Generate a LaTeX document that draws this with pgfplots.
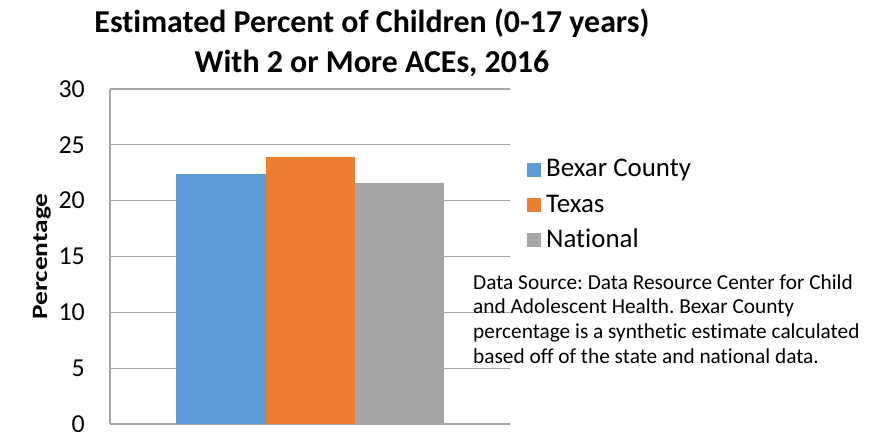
\documentclass[border=0pt]{standalone}
\usepackage{fontspec}
\setmainfont{Carlito}[Ligatures=NoCommon]
\usepackage{pgfplots}
\pgfplotsset{compat=1.18}

\definecolor{barblue}{HTML}{5B9BD5}
\definecolor{barorange}{HTML}{ED7D31}
\definecolor{bargray}{HTML}{A5A5A5}
\definecolor{gridgray}{HTML}{A6A6A6}

\begin{document}
\frenchspacing
\begin{tikzpicture}
\begin{axis}[
    scale only axis,
    width=400bp, height=335bp,
    clip=false,
    ybar=0pt, bar width=89bp,
    xmin=-1, xmax=1, ymin=0, ymax=30,
    xtick=\empty,
    ytick={0,5,...,30},
    ymajorgrids,
    grid style={gridgray, line width=1.1bp},
    axis x line=bottom, axis y line=left,
    axis line style={-, gridgray, line width=1.1bp},
    major tick length=0pt,
    /pgf/number format/assume math mode=true,
    yticklabel style={font=\fontsize{26}{30}\selectfont, inner sep=0pt, xshift=-25bp},
    every axis title/.style={at={(axis description cs:0.655,1)}, anchor=south,
        inner sep=0pt, yshift=12bp, align=center,
        font=\bfseries\fontsize{32}{40}\selectfont},
    title={Estimated Percent of Children (0-17 years)\\With 2 or More ACEs, 2016},
    every axis y label/.style={at={(axis description cs:-0.1475,0.5)}, rotate=90,
        anchor=south, inner sep=0pt, font=\bfseries\fontsize{22}{26}\selectfont},
    ylabel={\scalebox{1.25}[1]{Percentage}},
    legend cell align=left,
    legend image code/.code={\fill[#1] (0bp,-7bp) rectangle (14bp,7bp);},
    legend style={at={(axis description cs:1.0425,0.792)}, anchor=north west,
        draw=none, fill=none, inner sep=0pt, row sep=13.3bp, column sep=5bp,
        font=\fontsize{27}{32}\selectfont,
        nodes={inner sep=0pt, text height=18bp, text depth=4bp}},
]
\addplot[fill=barblue, draw=none] coordinates {(0,22.4)};
\addplot[fill=barorange, draw=none] coordinates {(0,23.9)};
\addplot[fill=bargray, draw=none] coordinates {(0,21.6)};
\legend{Bexar County,Texas,National}
\node[anchor=north west, align=left, inner sep=0pt,
      font=\fontsize{21.4}{25}\selectfont]
  at (axis description cs:0.9075,0.4477)
  {Data Source: Data Resource Center for Child\\
   and Adolescent Health. Bexar County\\
   percentage is a synthetic estimate calculated\\
   based off of the state and national data.};
\end{axis}
\pgfresetboundingbox
\path ([xshift=-110bp,yshift=-8bp]current axis.south west)
  rectangle ([xshift=761bp,yshift=424bp]current axis.south west);
\end{tikzpicture}
\end{document}
